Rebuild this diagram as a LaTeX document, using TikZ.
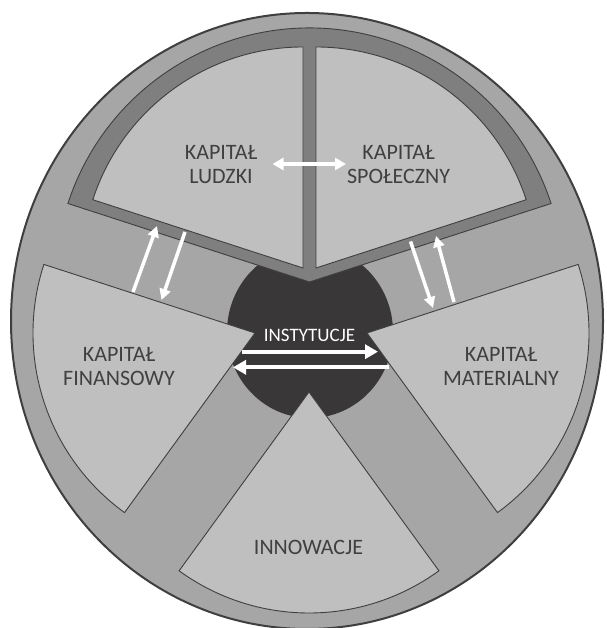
\documentclass[tikz,border=0pt]{standalone}
\usepackage{fontspec}
\setmainfont{Carlito}
\usetikzlibrary{arrows.meta}
\definecolor{ring}{HTML}{A6A6A6}
\definecolor{lightsec}{HTML}{BFBFBF}
\definecolor{framegray}{HTML}{7F7F7F}
\definecolor{core}{HTML}{393738}
\definecolor{ink}{HTML}{404040}
\definecolor{edgegray}{HTML}{3F3F3F}
\begin{document}
\begin{tikzpicture}[x=1pt,y=1pt,
  sector/.style={fill=lightsec, draw=edgegray, line width=0.9pt, line join=miter},
  txt/.style={text=ink, font=\fontsize{22}{24}\selectfont, align=center, inner sep=0pt},
  wharrow/.style={draw=white, line width=3.5pt, -{Triangle[length=11pt,width=11pt]}},
  wdouble/.style={draw=white, line width=3.5pt, {Triangle[length=11pt,width=12pt]}-{Triangle[length=11pt,width=12pt]}},
  bigarrow/.style={draw=white, line width=4pt, -{Triangle[length=13pt,width=14pt]}}]
\useasboundingbox (0,0) rectangle (606,628);
\fill[white] (0,0) rectangle (606,628);
% outer wheel
\draw[fill=ring, draw=edgegray, line width=2pt] (307,307) ellipse [x radius=296, y radius=308];
% central dark circle
\fill[core] (310,296) ellipse [x radius=83, y radius=86];
% dark frame of the upper sectors
\draw[fill=framegray, draw=edgegray, line width=0.9pt] (309.5,346) -- ++(162:254) arc[start angle=162, end angle=18, radius=254] -- cycle;
% light sectors
\draw[sector] (303,360) -- ++(162:221) arc[start angle=162, end angle=90, radius=221] -- cycle;
\draw[sector] (316,360) -- ++(90:221) arc[start angle=90, end angle=18, radius=221] -- cycle;
\draw[sector] (255,295) -- ++(162:222) arc[start angle=162, end angle=234, radius=222] -- cycle;
\draw[sector] (367,295) -- ++(-54:222) arc[start angle=-54, end angle=18, radius=222] -- cycle;
\draw[sector] (309,236) -- ++(234:221) arc[start angle=234, end angle=306, radius=221] -- cycle;
% labels
\node[txt] (ludzki) at (221,463.5) {KAPITAŁ\\LUDZKI};
\node[txt] (spoleczny) at (398.5,463.5) {KAPITAŁ\\SPOŁECZNY};
\node[txt] (finansowy) at (119,261.5) {KAPITAŁ\\FINANSOWY};
\node[txt] (materialny) at (501,261.5) {KAPITAŁ\\MATERIALNY};
\node[txt] (innowacje) at (308.5,81) {INNOWACJE};
\node[txt, text=white, font=\fontsize{19}{21}\selectfont] (instytucje) at (309.5,292.3) {INSTYTUCJE};
% arrow end points
\coordinate (lsA) at (272.5,464);
\coordinate (lsB) at (346,464);
\coordinate (luT) at (133,336);
\coordinate (luH) at (157,402);
\coordinate (ldT) at (185,396);
\coordinate (ldH) at (161.5,328);
\coordinate (rdT) at (410.5,386.5);
\coordinate (rdH) at (433,320);
\coordinate (ruT) at (454,326);
\coordinate (ruH) at (436,392);
\coordinate (irT) at (241.7,276.3);
\coordinate (irH) at (378,276.3);
\coordinate (ilT) at (389,260.7);
\coordinate (ilH) at (233,260.7);
% arrows
\draw[wdouble] (lsA) -- (lsB);
\draw[wharrow] (luT) -- (luH);
\draw[wharrow] (ldT) -- (ldH);
\draw[wharrow] (rdT) -- (rdH);
\draw[wharrow] (ruT) -- (ruH);
\draw[bigarrow] (irT) -- (irH);
\draw[bigarrow] (ilT) -- (ilH);
\end{tikzpicture}
\end{document}
